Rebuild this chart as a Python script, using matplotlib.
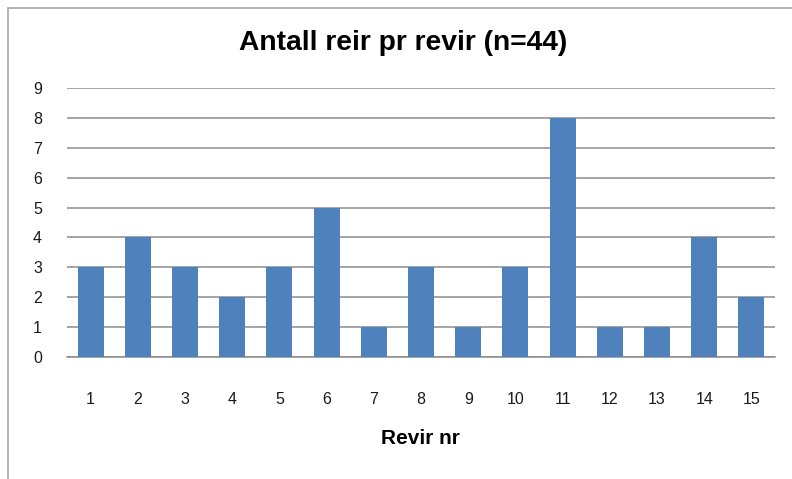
import numpy as np
import matplotlib
matplotlib.use('Agg')
import matplotlib.pyplot as plt
from matplotlib.patches import Rectangle

revir = [str(i) for i in range(1, 16)]
reir = [3, 4, 3, 2, 3, 5, 1, 3, 1, 3, 8, 1, 1, 4, 2]

fig = plt.figure(figsize=(7.92, 4.79), dpi=100)
ax = fig.add_axes([67 / 792, 1 - 357 / 479, (775 - 67) / 792, (357 - 88) / 479])

# chart area frame (only top and left visible in the crop)
fig.patches.append(Rectangle((8 / 792, -0.1), 1.2, 1 - 8 / 479 + 0.1,
                             transform=fig.transFigure, fill=False,
                             edgecolor='#a6a6a6', lw=1.2))

x = np.arange(len(revir))
ax.bar(x, reir, width=0.55, color='#4f81bd', zorder=3)
ax.set_xlim(-0.5, len(revir) - 0.5)
ax.set_ylim(0, 9)
ax.set_yticks(range(0, 10))
ax.set_xticks(x)
ax.set_xticklabels(revir)
ax.yaxis.grid(True, color='#8c8c8c', lw=1.1, zorder=0)
ax.set_axisbelow(True)
for s in ['top', 'right', 'left']:
    ax.spines[s].set_visible(False)
ax.spines['bottom'].set_color('#8c8c8c')
ax.spines['bottom'].set_linewidth(1.1)
ax.tick_params(axis='both', length=0, labelsize=11.5, labelcolor='#1a1a1a')
ax.tick_params(axis='y', pad=18)
ax.tick_params(axis='x', pad=25)
for lab in ax.get_xticklabels() + ax.get_yticklabels():
    lab.set_family('Liberation Sans')

fig.text(403 / 792, 1 - 43 / 479, 'Antall reir pr revir (n=44)', ha='center',
         va='center', fontsize=20.3, fontweight='bold', family='Liberation Sans')
fig.text(420 / 792, 1 - 439 / 479, 'Revir nr', ha='center', va='center',
         fontsize=15, fontweight='bold', family='Liberation Sans')

fig.savefig('out.png', dpi=100)
